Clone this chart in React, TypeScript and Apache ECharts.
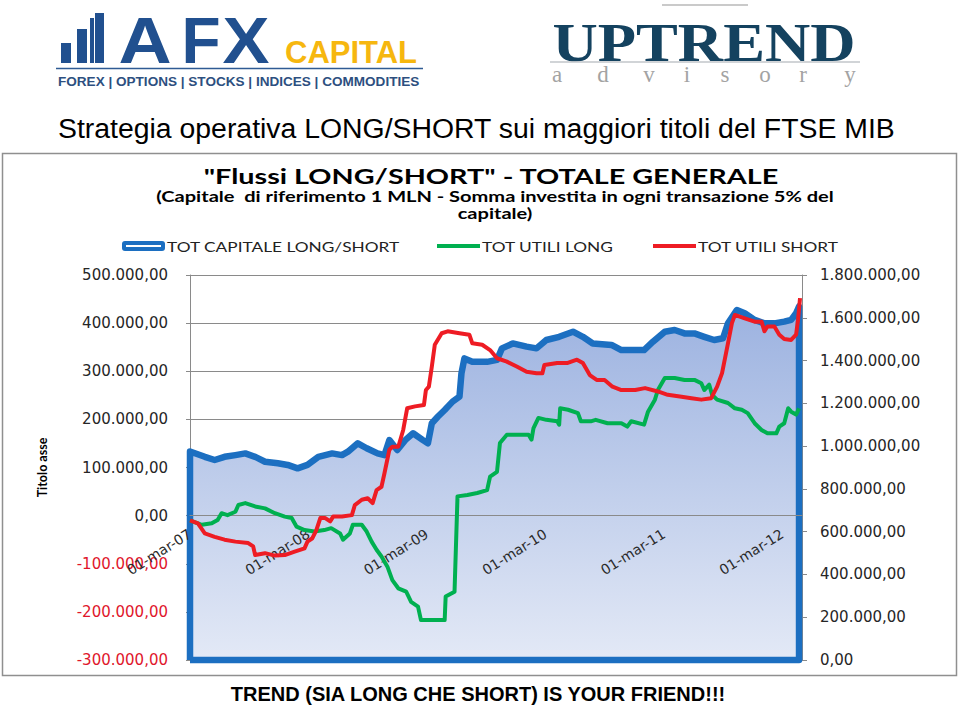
import React, { useEffect, useRef } from 'react';
import * as echarts from 'echarts';

// x = months elapsed since 01-mar-2007
const yearLabels = ['01-mar-07', '01-mar-08', '01-mar-09', '01-mar-10', '01-mar-11', '01-mar-12'];

// TOT CAPITALE LONG/SHORT (right axis)
const capitaleLongShort: [number, number][] = [
  [0, 975000], [1.5, 950000], [2.5, 935000], [3.5, 950000], [4.6, 958000], [5.6, 966000], [6.6, 950000],
  [7.6, 927000], [8.9, 920000], [9.9, 912000], [10.9, 896000], [11.9, 912000], [13.0, 950000], [14.4, 966000],
  [15.4, 958000], [16.0, 974000], [17.0, 1013000], [17.9, 990000], [19.0, 966000], [19.7, 958000],
  [20.2, 1028000], [21.0, 982000], [21.8, 1028000], [22.6, 1060000], [23.6, 1028000], [24.1, 1013000],
  [24.5, 1107000], [25.1, 1137000], [25.8, 1169000], [26.6, 1208000], [27.3, 1231000], [27.5, 1340000],
  [27.8, 1410000], [28.6, 1394000], [30.1, 1394000], [31.1, 1403000], [31.6, 1457000], [32.7, 1480000],
  [34.1, 1465000], [35.1, 1457000], [36.1, 1496000], [37.4, 1511000], [38.8, 1535000], [39.8, 1511000],
  [40.8, 1480000], [42.7, 1473000], [43.7, 1449000], [46.0, 1449000], [46.9, 1488000], [48.1, 1535000],
  [49.1, 1543000], [50.1, 1527000], [51.1, 1527000], [52.1, 1511000], [53.1, 1496000], [54.0, 1504000],
  [54.5, 1574000], [55.4, 1636000], [56.2, 1621000], [57.2, 1590000], [58.2, 1574000], [59.2, 1574000],
  [60.2, 1582000], [60.9, 1590000], [61.4, 1621000], [61.7, 1653000],
];

// TOT UTILI LONG (left axis)
const utiliLong: [number, number][] = [
  [0, -10000], [1.2, -19000], [2.2, -16000], [2.8, -9000], [3.2, 5000], [3.8, 1000], [4.6, 8000], [4.9, 22000],
  [5.6, 26000], [6.6, 19000], [7.6, 15000], [8.6, 5000], [9.6, -2000], [10.3, -5000], [10.8, -23000],
  [11.6, -30000], [12.6, -33000], [13.6, -30000], [14.3, -26000], [15.2, -37000], [15.5, -50000],
  [16.2, -37000], [16.5, -19000], [17.4, -19000], [17.9, -33000], [18.4, -54000], [18.9, -71000],
  [19.4, -85000], [20.0, -106000], [20.5, -134000], [21.1, -151000], [21.9, -158000], [22.4, -179000],
  [23.1, -189000], [23.4, -217000], [24.4, -217000], [25.8, -217000], [25.9, -168000], [26.8, -158000],
  [27.1, 40000], [28.1, 43000], [29.1, 47000], [30.1, 53000], [30.4, 81000], [31.1, 91000], [31.4, 151000],
  [32.1, 168000], [33.1, 168000], [34.3, 168000], [34.6, 158000], [34.8, 182000], [35.3, 203000],
  [36.1, 199000], [37.2, 196000], [37.4, 189000], [37.5, 223000], [38.3, 220000], [39.3, 213000],
  [39.6, 196000], [40.6, 196000], [41.1, 199000], [42.3, 192000], [43.7, 192000], [44.3, 185000],
  [44.7, 196000], [46.0, 189000], [46.4, 216000], [47.1, 241000], [47.4, 261000], [48.1, 286000],
  [49.1, 286000], [50.1, 282000], [51.1, 282000], [51.8, 275000], [52.1, 261000], [52.6, 272000],
  [52.9, 251000], [53.4, 241000], [54.5, 234000], [55.2, 223000], [55.9, 220000], [56.5, 213000],
  [57.2, 192000], [57.9, 178000], [58.5, 171000], [59.4, 171000], [59.7, 185000], [60.2, 192000],
  [60.6, 223000], [60.9, 216000], [61.4, 210000], [61.7, 223000],
];

// TOT UTILI SHORT (left axis)
const utiliShort: [number, number][] = [
  [0, -10000], [0.8, -16000], [1.5, -37000], [2.5, -44000], [3.5, -50000], [4.6, -54000], [5.9, -57000],
  [6.4, -64000], [6.6, -82000], [7.6, -78000], [8.6, -83000], [9.6, -82000], [10.6, -75000], [11.6, -68000],
  [11.9, -54000], [12.4, -47000], [12.8, -30000], [13.2, -5000], [13.7, -5000], [14.2, -12000], [14.5, -2000],
  [15.4, -2000], [16.4, 1000], [16.7, 22000], [17.4, 33000], [18.0, 36000], [18.5, 26000], [18.9, 53000],
  [19.4, 60000], [19.7, 88000], [20.2, 137000], [20.5, 143000], [21.1, 143000], [21.6, 178000],
  [22.0, 223000], [22.8, 227000], [23.7, 230000], [23.9, 261000], [24.2, 268000], [24.5, 310000],
  [24.8, 355000], [25.5, 379000], [26.1, 383000], [27.3, 379000], [28.3, 376000], [28.6, 358000],
  [29.6, 355000], [30.4, 344000], [31.1, 327000], [32.1, 320000], [33.1, 310000], [34.1, 299000],
  [35.1, 296000], [35.7, 296000], [35.9, 313000], [37.2, 317000], [38.2, 317000], [39.2, 324000],
  [39.8, 317000], [40.5, 292000], [41.2, 282000], [42.0, 282000], [42.8, 268000], [43.7, 261000],
  [45.1, 261000], [46.1, 265000], [47.4, 258000], [48.4, 251000], [49.8, 247000], [50.8, 244000],
  [51.8, 241000], [52.8, 244000], [53.4, 268000], [53.9, 296000], [54.5, 358000], [54.9, 400000],
  [55.2, 417000], [56.2, 410000], [57.2, 403000], [57.9, 403000], [58.2, 383000], [58.5, 393000],
  [59.2, 393000], [59.7, 376000], [60.2, 367000], [60.9, 365000], [61.4, 376000], [61.6, 407000],
  [61.8, 452000],
];

const BLUE = '#1c6fc1';
const GREEN = '#00b050';
const RED = '#ee1c24';
const AXIS = '#8a8a8a';

const LEFT_MIN = -300000;
const LEFT_MAX = 500000;
const GRID_TOP = 275;
const GRID_BOTTOM = 47;
const CHART_H = 707;

const fmt = (v: number) => {
  const s = Math.round(Math.abs(v)).toString().replace(/\B(?=(\d{3})+(?!\d))/g, '.');
  return (v < 0 ? '-' : '') + s + ',00';
};

const txt = (x: number, y: number, text: string, o: any = {}) => ({
  type: 'text',
  x,
  y,
  scaleX: o.scaleX ?? 1,
  rotation: o.rotation ?? 0,
  silent: true,
  style: {
    text,
    fontSize: o.size ?? 14,
    fontFamily: o.family ?? 'Lato, sans-serif',
    fontWeight: o.weight ?? 'normal',
    fill: o.fill ?? '#000',
    textAlign: o.align ?? 'left',
    align: o.align ?? 'left',
    textVerticalAlign: o.valign ?? 'middle',
    verticalAlign: o.valign ?? 'middle',
  },
});

export default function App() {
  const ref = useRef<HTMLDivElement>(null);
  useEffect(() => {
    if (!ref.current) return;
    const chart = echarts.init(ref.current, null, { renderer: 'svg' });
    const first = capitaleLongShort[0];
    const last = capitaleLongShort[capitaleLongShort.length - 1];
    const blueData = [[first[0], 0], ...capitaleLongShort, [last[0], 0], [first[0], 0]];

    // place the category axis on the zero of the left axis (as Excel does)
    const plotH = CHART_H - GRID_TOP - GRID_BOTTOM;
    const zeroFromBottom = (0 - LEFT_MIN) / (LEFT_MAX - LEFT_MIN) * plotH;

    const advisory = ['a', 'd', 'v', 'i', 's', 'o', 'r', 'y'];
    const advX = [557, 603, 649, 687, 725, 765, 803, 850];
    const serif = '"Liberation Serif", "Times New Roman", serif';
    const sans = '"Liberation Sans", Arial, sans-serif';

    const graphics: any[] = [
      // frame of the chart picture
      { type: 'rect', silent: true, shape: { x: 2.5, y: 153.5, width: 954, height: 522 }, style: { fill: 'none', stroke: '#8f8f8f', lineWidth: 1.5 } },
      // AFX logo
      { type: 'rect', silent: true, shape: { x: 61, y: 43, width: 10, height: 20 }, style: { fill: '#21508f' } },
      { type: 'rect', silent: true, shape: { x: 77, y: 29, width: 10, height: 34 }, style: { fill: '#21508f' } },
      { type: 'rect', silent: true, shape: { x: 90, y: 18, width: 4, height: 45 }, style: { fill: '#21508f' } },
      { type: 'rect', silent: true, shape: { x: 95, y: 13, width: 9, height: 50 }, style: { fill: '#21508f' } },
      txt(145, 41, 'A', { size: 64, family: sans, weight: 'bold', fill: '#21508f', align: 'center', scaleX: 1.15 }),
      txt(201, 41, 'F', { size: 64, family: sans, weight: 'bold', fill: '#21508f', align: 'center' }),
      txt(246, 41, 'X', { size: 64, family: sans, weight: 'bold', fill: '#21508f', align: 'center', scaleX: 1.1 }),
      txt(285, 52, 'CAPITAL', { size: 31, family: sans, weight: 'bold', fill: '#f6b70f' }),
      { type: 'line', silent: true, shape: { x1: 56, y1: 68.5, x2: 423, y2: 68.5 }, style: { stroke: '#2f5b94', lineWidth: 1.5 } },
      txt(58, 81.5, 'FOREX | OPTIONS | STOCKS | INDICES | COMMODITIES', { size: 12, family: sans, weight: 'bold', fill: '#2d4f80', scaleX: 1.13 }),
      // UPTREND logo
      { type: 'line', silent: true, shape: { x1: 662, y1: 5, x2: 748, y2: 5 }, style: { stroke: '#b8b8b8', lineWidth: 1.5 } },
      txt(704, 42, 'UPTREND', { size: 56, family: serif, weight: 'bold', fill: '#14425f', align: 'center', scaleX: 1.12 }),
      { type: 'line', silent: true, shape: { x1: 550, y1: 62, x2: 860, y2: 62 }, style: { stroke: '#c2c6ca', lineWidth: 1.5 } },
      ...advisory.map((c, i) => txt(advX[i], 74, c, { size: 23, family: serif, fill: '#a3a3a3', align: 'center' })),
      // slide title
      txt(58, 128, 'Strategia operativa LONG/SHORT sui maggiori titoli del FTSE MIB', { size: 28.4, family: sans, fill: '#000' }),
      // chart titles
      txt(491, 176, '"Flussi LONG/SHORT" - TOTALE GENERALE', { size: 21, weight: 'bold', align: 'center', scaleX: 1.37 }),
      txt(495, 196.5, '(Capitale  di riferimento 1 MLN - Somma investita in ogni transazione 5% del', { size: 15, weight: 'bold', align: 'center', scaleX: 1.337 }),
      txt(495, 213.5, 'capitale)', { size: 15, weight: 'bold', align: 'center', scaleX: 1.337 }),
      // legend
      { type: 'rect', silent: true, shape: { x: 122, y: 241, width: 43, height: 10, r: 3 }, style: { fill: BLUE } },
      { type: 'line', silent: true, shape: { x1: 126, y1: 246, x2: 161, y2: 246 }, style: { stroke: '#ffffff', lineWidth: 2 } },
      txt(167, 246.5, 'TOT CAPITALE LONG/SHORT', { size: 13.5, fill: '#222', scaleX: 1.28 }),
      { type: 'line', silent: true, shape: { x1: 437, y1: 246, x2: 480, y2: 246 }, style: { stroke: GREEN, lineWidth: 4 } },
      txt(482, 246.5, 'TOT UTILI LONG', { size: 13.5, fill: '#222', scaleX: 1.28 }),
      { type: 'line', silent: true, shape: { x1: 653, y1: 246, x2: 696, y2: 246 }, style: { stroke: RED, lineWidth: 4 } },
      txt(698, 246.5, 'TOT UTILI SHORT', { size: 13.5, fill: '#222', scaleX: 1.28 }),
      // footer
      txt(478, 693.5, 'TREND (SIA LONG CHE SHORT) IS YOUR FRIEND!!!', { size: 20, family: sans, weight: 'bold', align: 'center' }),
    ];

    const labelFont = { fontFamily: '"DejaVu Sans", Verdana, sans-serif', fontSize: 15 };

    chart.setOption({
      animation: false,
      backgroundColor: '#ffffff',
      graphic: { elements: graphics },
      grid: { left: 190, right: 157, top: GRID_TOP, bottom: GRID_BOTTOM, containLabel: false },
      xAxis: {
        type: 'value',
        position: 'bottom',
        offset: -zeroFromBottom,
        min: 0,
        max: 62,
        interval: 12,
        z: 3,
        axisLine: { show: true, onZero: false, lineStyle: { color: AXIS, width: 1 } },
        axisTick: { show: false },
        splitLine: { show: false },
        axisLabel: {
          rotate: 32,
          margin: 17,
          fontFamily: '"DejaVu Sans", Verdana, sans-serif',
          fontSize: 14,
          color: '#2a2a2a',
          showMaxLabel: false,
          formatter: (v: number) => (Number.isInteger(v / 12) ? yearLabels[v / 12] ?? '' : ''),
        },
      },
      yAxis: [
        {
          type: 'value',
          position: 'left',
          min: LEFT_MIN,
          max: LEFT_MAX,
          interval: 100000,
          name: 'Titolo asse',
          nameLocation: 'middle',
          nameRotate: 90,
          nameGap: 141,
          nameTextStyle: { fontFamily: 'Lato, sans-serif', fontWeight: 'bold', fontSize: 12.5, color: '#000' },
          axisLine: { show: true, onZero: false, lineStyle: { color: AXIS } },
          axisTick: { show: true, length: 4, lineStyle: { color: AXIS } },
          splitLine: { show: true, lineStyle: { color: AXIS, width: 1 } },
          axisLabel: {
            margin: 22,
            ...labelFont,
            formatter: (v: number) => (v < 0 ? `{n|${fmt(v)}}` : `{p|${fmt(v)}}`),
            rich: {
              n: { ...labelFont, color: '#e0162b' },
              p: { ...labelFont, color: '#262626' },
            },
          },
        },
        {
          type: 'value',
          position: 'right',
          min: 0,
          max: 1800000,
          interval: 200000,
          axisLine: { show: true, onZero: false, lineStyle: { color: AXIS } },
          axisTick: { show: true, length: 5, lineStyle: { color: AXIS } },
          splitLine: { show: false },
          axisLabel: { margin: 18, ...labelFont, color: '#262626', formatter: (v: number) => fmt(v) },
        },
      ],
      series: [
        {
          type: 'line',
          name: 'TOT CAPITALE LONG/SHORT',
          yAxisIndex: 1,
          data: blueData,
          symbol: 'none',
          clip: false,
          z: 2,
          lineStyle: { color: BLUE, width: 6.5, join: 'round' },
          areaStyle: {
            opacity: 1,
            color: new echarts.graphic.LinearGradient(0, 0, 0, 1, [
              { offset: 0, color: '#9cb2e0' },
              { offset: 1, color: '#e3e9f6' },
            ]),
          },
        },
        {
          type: 'line',
          name: 'TOT UTILI LONG',
          yAxisIndex: 0,
          data: utiliLong,
          symbol: 'none',
          z: 5,
          lineStyle: { color: GREEN, width: 4, join: 'round' },
        },
        {
          type: 'line',
          name: 'TOT UTILI SHORT',
          yAxisIndex: 0,
          data: utiliShort,
          symbol: 'none',
          z: 6,
          lineStyle: { color: RED, width: 4, join: 'round' },
        },
      ],
    });
    return () => chart.dispose();
  }, []);
  return <div ref={ref} style={{ position: 'absolute', left: 0, top: 0, width: 959, height: 707 }} />;
}
